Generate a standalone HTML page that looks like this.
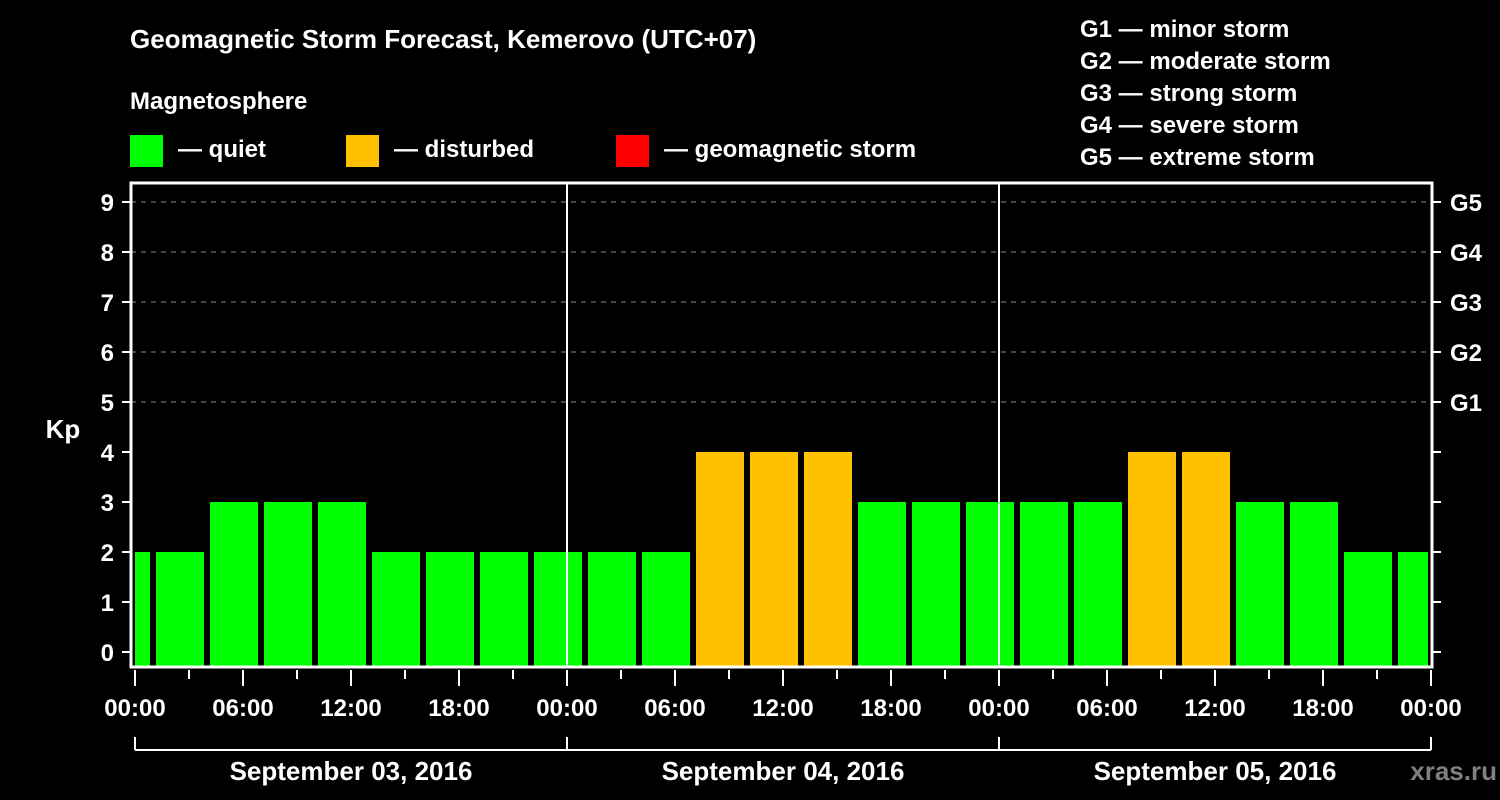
<!DOCTYPE html>
<html><head><meta charset="utf-8"><style>
html,body{margin:0;padding:0;background:#000;}
svg{display:block;font-family:"Liberation Sans",Arial,sans-serif;font-weight:bold;}
</style></head><body>
<svg id="chart" width="1500" height="800" viewBox="0 0 1500 800" xmlns="http://www.w3.org/2000/svg">
<rect width="1500" height="800" fill="#000"/>
<text x="130" y="48" fill="#fff" font-size="26">Geomagnetic Storm Forecast, Kemerovo (UTC+07)</text>
<text x="130" y="109" fill="#fff" font-size="24">Magnetosphere</text>
<g><rect x="130" y="135" width="33" height="32" fill="#00ff00"/><text x="178" y="157" fill="#fff" font-size="24">— quiet</text></g>
<g><rect x="346" y="135" width="33" height="32" fill="#ffc000"/><text x="394" y="157" fill="#fff" font-size="24">— disturbed</text></g>
<g><rect x="616" y="135" width="33" height="32" fill="#ff0000"/><text x="664" y="157" fill="#fff" font-size="24">— geomagnetic storm</text></g>
<g fill="#fff" font-size="24">
<text x="1080" y="37">G1 — minor storm</text>
<text x="1080" y="69">G2 — moderate storm</text>
<text x="1080" y="101">G3 — strong storm</text>
<text x="1080" y="133">G4 — severe storm</text>
<text x="1080" y="165">G5 — extreme storm</text>
</g>
<g id="grid"></g>
<g id="bars"></g>
<g id="axes"></g>
<text x="63" y="438" fill="#fff" font-size="26" text-anchor="middle">Kp</text>
<text x="1497" y="780" fill="#808080" font-size="26" text-anchor="end">xras.ru</text>
</svg>
<script>
const kpValues = [2, 2,3,3,3,2,2,2,2,2,2,4,4,4,3,3,3,3,3,4,4,3,3,2, 2];
const dayLabels = ["September 03, 2016","September 04, 2016","September 05, 2016"];
const yTicks = [0,1,2,3,4,5,6,7,8,9];
const gLabels = ["G1","G2","G3","G4","G5"];
const timeLabels = ["00:00","06:00","12:00","18:00"];
const firstSlotHour = -2; // UTC+7 offset: 3h slots start at 01:00 local

const NS="http://www.w3.org/2000/svg";
const L=131,R=1432,T=183,B=667,X0=135,PXH=18;
const xS=h=>X0+h*PXH;
const yS=v=>652-v*50;
function mk(tag,attrs,parent){const e=document.createElementNS(NS,tag);for(const k in attrs)e.setAttribute(k,attrs[k]);parent.appendChild(e);return e;}
const grid=document.getElementById('grid'),bars=document.getElementById('bars'),axes=document.getElementById('axes');

// grid dashed lines at G levels
for(let g=0;g<gLabels.length;g++){
  const y=yS(5+g);
  const ln=mk('line',{x1:L,x2:R,y1:y,y2:y,stroke:'#888','stroke-width':1,'stroke-dasharray':'5,5'},grid);
  
  
  const t=mk('text',{x:1450,y:y+9,fill:'#fff','font-size':24},axes);
  t.textContent=gLabels[g];
  
  
}
// bars
kpValues.forEach((v,i)=>{
  const h0=firstSlotHour+3*i;
  let x1=xS(h0)+3,x2=xS(h0+3)-3;
  x1=Math.max(x1,L+4);x2=Math.min(x2,R-4);
  const col=v>=5?'#ff0000':(v>=4?'#ffc000':'#00ff00');
  const r=mk('rect',{x:x1,y:yS(v),width:x2-x1,height:B-yS(v),fill:col},bars);
  
  
});
// day separators
for(let d=1;d<dayLabels.length;d++){
  const x=xS(24*d);
  const ln=mk('line',{x1:x,x2:x,y1:T,y2:B,stroke:'#fff','stroke-width':2},axes);
  
  
}
// frame
const fr=mk('rect',{x:L,y:T,width:R-L,height:B-T,fill:'none',stroke:'#fff','stroke-width':3},axes);


// y ticks
yTicks.forEach(v=>{
  const y=yS(v);
  mk('line',{x1:122,x2:L,y1:y,y2:y,stroke:'#fff','stroke-width':2},axes);
  mk('line',{x1:R,x2:1441,y1:y,y2:y,stroke:'#fff','stroke-width':2},axes);
  const t=mk('text',{x:114,y:y+9,fill:'#fff','font-size':24,'text-anchor':'end'},axes);
  t.textContent=v;
  
  
});
// x ticks
const totalH=24*dayLabels.length;
for(let h=0;h<=totalH;h+=3){
  const x=xS(h);const major=h%6===0;
  mk('line',{x1:x,x2:x,y1:B+3,y2:major?B+19:B+12,stroke:'#fff','stroke-width':2},axes);
  if(major){
    const t=mk('text',{x:x,y:716,fill:'#fff','font-size':24,'text-anchor':'middle'},axes);
    t.textContent=timeLabels[(h%24)/6];
    
    
  }
}
// date bracket
mk('line',{x1:xS(0),x2:xS(totalH),y1:750,y2:750,stroke:'#fff','stroke-width':2},axes);
for(let d=0;d<=dayLabels.length;d++){
  const x=xS(24*d);
  mk('line',{x1:x,x2:x,y1:737,y2:750,stroke:'#fff','stroke-width':2},axes);
}
dayLabels.forEach((s,d)=>{
  const t=mk('text',{x:xS(24*d+12),y:780,fill:'#fff','font-size':26,'text-anchor':'middle'},axes);
  t.textContent=s;
  
  
});
</script>
</body></html>
